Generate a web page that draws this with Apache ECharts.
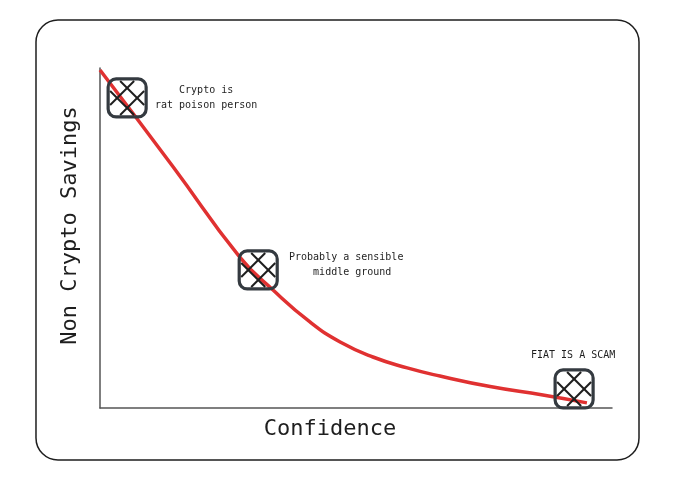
<!DOCTYPE html>
<html><head><meta charset="utf-8">
<script src="https://cdn.jsdelivr.net/npm/echarts@6/dist/echarts.min.js"></script>
<style>html,body{margin:0;padding:0;background:#fff}#c{width:680px;height:483px}</style>
</head><body><div id="c"></div>
<script>
// Curve: confidence (x) vs non-crypto savings (y)
const curveX = [0, 14.3, 27.3, 33.8, 41.0, 46.9, 53.3, 60.0, 66.4, 76.2, 86.5, 95.1];
const curveY = [99.4, 70.9, 44.4, 34.7, 25.3, 19.4, 15.0, 11.8, 9.4, 6.3, 3.8, 1.5];
// Annotated personas
const markerX = [5.3, 30.9, 92.6];
const markerY = [91.2, 40.6, 5.6];
const markerText = ['Crypto is\nrat poison person', 'Probably a sensible\n  middle ground', 'FIAT IS A SCAM'];
const xName = 'Confidence';
const yName = 'Non Crypto Savings';

const labelOffsets = [[79, 0], [88, -5], [-1, -34]];

const chart = echarts.init(document.getElementById('c'));
const ink = '#343a40';
chart.setOption({
  animation: false,
  backgroundColor: '#fff',
  graphic: [{
    type: 'rect', shape: {x: 36, y: 20, width: 603, height: 440, r: 22},
    style: {fill: 'none', stroke: '#1e1e1e', lineWidth: 1.5}, silent: true, z: 0
  }],
  grid: {left: 100, right: 68, top: 68, bottom: 75},
  xAxis: {
    type: 'value', min: 0, max: 100,
    name: xName, nameLocation: 'middle', nameGap: 10,
    nameTextStyle: {fontFamily: 'DejaVu Sans Mono', fontSize: 22, color: '#1e1e1e', verticalAlign: 'top', padding: [0, 52, 0, 0]},
    axisLine: {lineStyle: {color: '#555', width: 1.5}},
    axisTick: {show: false}, axisLabel: {show: false}, splitLine: {show: false}
  },
  yAxis: {
    type: 'value', min: 0, max: 100,
    name: yName, nameLocation: 'middle', nameGap: 19,
    nameTextStyle: {fontFamily: 'DejaVu Sans Mono', fontSize: 22, color: '#1e1e1e', padding: [0, 0, 0, 25]},
    axisLine: {show: true, lineStyle: {color: '#555', width: 1.5}},
    axisTick: {show: false}, axisLabel: {show: false}, splitLine: {show: false}
  },
  series: [{
    type: 'line', smooth: 0.5, symbol: 'none',
    data: curveX.map((x, i) => [x, curveY[i]]),
    lineStyle: {color: '#e03131', width: 3.5}, z: 2
  }, {
    type: 'custom', z: 3,
    data: markerX.map((x, i) => [x, markerY[i], i]),
    renderItem: function (params, api) {
      const p = api.coord([api.value(0), api.value(1)]);
      const idx = api.value(2);
      const s = 38, h = s / 2;
      const x0 = p[0] - h, y0 = p[1] - h;
      const kids = [{
        type: 'rect', shape: {x: x0, y: y0, width: s, height: s, r: 8},
        style: {fill: 'none', stroke: ink, lineWidth: 3.2}
      }];
      const d = 10, m = 2;
      [-d, d].forEach(c => {
        let a, b;
        if (c > 0) { a = [m, c + m]; b = [s - c - m, s - m]; }
        else { a = [-c + m, m]; b = [s - m, s + c - m]; }
        kids.push({type: 'line', shape: {x1: x0 + a[0], y1: y0 + a[1], x2: x0 + b[0], y2: y0 + b[1]},
          style: {stroke: '#1e1e1e', lineWidth: 2}});
        kids.push({type: 'line', shape: {x1: x0 + s - a[0], y1: y0 + a[1], x2: x0 + s - b[0], y2: y0 + b[1]},
          style: {stroke: '#1e1e1e', lineWidth: 2}});
      });
      kids.push({type: 'text', style: {
        text: markerText[idx], x: p[0] + labelOffsets[idx][0], y: p[1] + labelOffsets[idx][1],
        align: 'center', verticalAlign: 'middle', fontFamily: 'DejaVu Sans Mono', fontSize: 10,
        fill: '#1e1e1e', lineHeight: 15
      }});
      return {type: 'group', children: kids};
    }
  }]
});
</script></body></html>
